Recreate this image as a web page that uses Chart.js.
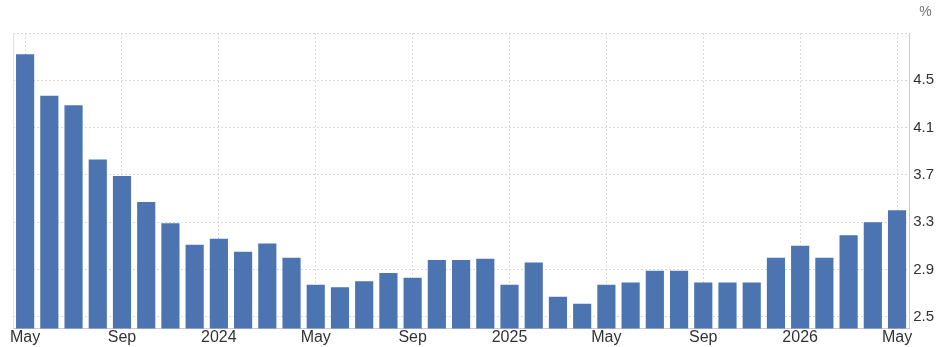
<!DOCTYPE html>
<html>
<head>
<meta charset="utf-8">
<script src="https://cdn.jsdelivr.net/npm/chart.js@4/dist/chart.umd.min.js"></script>
<style>
  html, body { margin: 0; padding: 0; background: #fff; }
  #wrap { width: 938px; height: 347px; }
</style>
</head>
<body>
<div id="wrap"><canvas id="rateChart"></canvas></div>
<script>
// monthly categories, May 2023 .. May 2026
const months = [
	'2023-05','2023-06','2023-07','2023-08','2023-09','2023-10','2023-11','2023-12',
	'2024-01','2024-02','2024-03','2024-04','2024-05','2024-06','2024-07','2024-08',
	'2024-09','2024-10','2024-11','2024-12','2025-01','2025-02','2025-03','2025-04',
	'2025-05','2025-06','2025-07','2025-08','2025-09','2025-10','2025-11','2025-12',
	'2026-01','2026-02','2026-03','2026-04','2026-05'
]
const values = [
	4.72, 4.37, 4.29, 3.83, 3.69, 3.47, 3.29, 3.11, 3.16, 3.05, 3.12, 3.00,
	2.77, 2.75, 2.80, 2.87, 2.83, 2.98, 2.98, 2.99, 2.77, 2.96, 2.67, 2.61,
	2.77, 2.79, 2.89, 2.89, 2.79, 2.79, 2.79, 3.00, 3.10, 3.00, 3.19, 3.30, 3.40
]
// x labels shown every 4th month
const xTickLabels = ['May','Sep','2024','May','Sep','2025','May','Sep','2026','May']
const yTicks = [2.5, 2.9, 3.3, 3.7, 4.1, 4.5, 4.9]
const yMin = 2.4
const yMax = 4.9

const gridColor = '#d9d9d9'
const axisColor = '#cccccc'
const fontFamily = '"Liberation Sans", Arial, sans-serif'

// left frame line + unit label
const extras = {
	id: 'extras',
	afterDraw(chart){
		const {ctx, chartArea} = chart
		ctx.save()
		ctx.strokeStyle = '#e0e0e0'
		ctx.lineWidth = 1
		ctx.beginPath()
		ctx.moveTo(chartArea.left + 0.5, chartArea.top)
		ctx.lineTo(chartArea.left + 0.5, chartArea.bottom)
		ctx.stroke()
		ctx.fillStyle = '#777'
		ctx.font = '14px ' + fontFamily
		ctx.textAlign = 'left'
		ctx.textBaseline = 'middle'
		ctx.fillText('%', chartArea.right + 10, 12)
		ctx.restore()
	}
}

new Chart(
	document.getElementById('rateChart'),
	{
		type: 'bar',
		data: {
			labels: months,
			datasets: [
				{
					label: 'rate',
					data: values,
					backgroundColor: '#4c74b1',
					barPercentage: 0.75,
					categoryPercentage: 1.0
				}
			]
		},
		options: {
			responsive: true,
			maintainAspectRatio: false,
			animation: false,
			layout: {
				padding: { top: 33, left: 13, right: 0, bottom: 0 }
			},
			plugins: {
				legend: { display: false },
				tooltip: { enabled: false }
			},
			scales: {
				x: {
					offset: true,
					grid: {
						offset: false,
						drawTicks: false,
						color: ctx => (ctx.index % 4 === 0 ? gridColor : 'rgba(0,0,0,0)')
					},
					border: { display: true, color: axisColor, dash: [2, 2] },
					ticks: {
						autoSkip: false,
						maxRotation: 0,
						padding: 0,
						color: '#333',
						font: { family: fontFamily, size: 16, lineHeight: 1.15 },
						callback: (v, i) => (i % 4 === 0 ? xTickLabels[i / 4] : '')
					}
				},
				y: {
					position: 'right',
					min: yMin,
					max: yMax,
					afterBuildTicks: scale => {
						scale.ticks = yTicks.map(v => ({ value: v }))
					},
					grid: {
						drawTicks: false,
						color: gridColor
					},
					border: { display: true, color: axisColor, dash: [2, 2] },
					ticks: {
						padding: 4,
						color: '#333',
						font: { family: fontFamily, size: 15 },
						callback: v => (v >= 4.9 ? '' : v.toFixed(1))
					}
				}
			}
		},
		plugins: [extras]
	}
);
</script>
</body>
</html>
